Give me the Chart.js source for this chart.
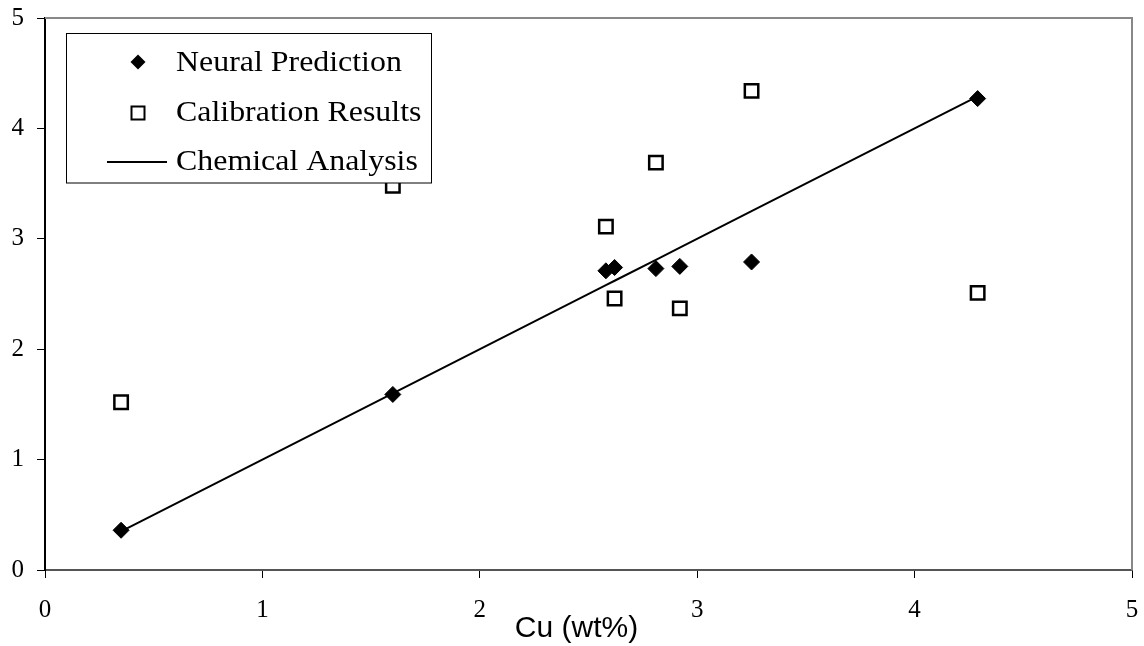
<!DOCTYPE html>
<html>
<head>
<meta charset="utf-8">
<script src="https://cdn.jsdelivr.net/npm/chart.js@4.4.1/dist/chart.umd.min.js"></script>
<style>
  html, body { margin: 0; padding: 0; background: #fff; }
  #wrap { width: 1144px; height: 646px; }
</style>
</head>
<body>
<div id="wrap"><canvas id="myChart" width="1144" height="646"></canvas></div>
<script>
// waarden
const cuContent = [0.35, 1.60, 2.58, 2.62, 2.81, 2.92, 3.25, 4.29];
const neuralPrediction = [0.36, 1.59, 2.71, 2.74, 2.73, 2.75, 2.79, 4.27];
const calibrationResults = [1.52, 3.48, 3.11, 2.46, 3.69, 2.37, 4.34, 2.51];
const chemicalAnalysis = [0.35, 1.60, 2.58, 2.62, 2.81, 2.92, 3.25, 4.29];
const axisMin = 0;
const axisMax = 5;
const axisStep = 1;
const xTitle = 'Cu (wt%)';
const legendLabels = ['Neural Prediction', 'Calibration Results', 'Chemical Analysis'];

const serif = "'Liberation Serif', 'Times New Roman', serif";
const sans = "'Liberation Sans', Arial, sans-serif";

const toPoints = (xs, ys) => xs.map((x, i) => ({ x: x, y: ys[i] }));

// grijze rand boven en rechts van het plotvlak
const plotBorder = {
    id: 'plotBorder',
    beforeDatasetsDraw(chart) {
        const { ctx, chartArea: a } = chart;
        ctx.save();
        ctx.strokeStyle = '#888';
        ctx.lineWidth = 2;
        ctx.beginPath();
        ctx.moveTo(a.left, a.top);
        ctx.lineTo(a.right, a.top);
        ctx.lineTo(a.right, a.bottom);
        ctx.stroke();
        ctx.restore();
    }
};

// legenda binnen het plotvlak + as-titel
const boxLegend = {
    id: 'boxLegend',
    afterDraw(chart) {
        const ctx = chart.ctx;
        const a = chart.chartArea;
        const bx = 66, by = 33.5, bw = 365, bh = 149.5;
        ctx.save();
        ctx.fillStyle = '#fff';
        ctx.fillRect(bx, by, bw, bh);
        ctx.strokeStyle = '#000';
        ctx.lineWidth = 1;
        ctx.strokeRect(bx + 0.5, by, bw, bh);

        const markerX = 138;
        const rowsY = [62, 113, 162];
        const baseY = [71, 121, 170];

        ctx.fillStyle = '#000';
        ctx.strokeStyle = '#000';
        ctx.beginPath();
        ctx.moveTo(markerX - 7.5, rowsY[0]);
        ctx.lineTo(markerX, rowsY[0] - 7.5);
        ctx.lineTo(markerX + 7.5, rowsY[0]);
        ctx.lineTo(markerX, rowsY[0] + 7.5);
        ctx.closePath();
        ctx.fill();

        ctx.fillStyle = '#fff';
        ctx.lineWidth = 2;
        ctx.beginPath();
        ctx.rect(markerX - 6.5, rowsY[1] - 6.5, 13, 13);
        ctx.fill();
        ctx.stroke();

        ctx.beginPath();
        ctx.moveTo(107, rowsY[2]);
        ctx.lineTo(167, rowsY[2]);
        ctx.stroke();

        ctx.fillStyle = '#000';
        ctx.font = '29px ' + serif;
        ctx.textBaseline = 'alphabetic';
        ctx.textAlign = 'left';
        legendLabels.forEach((t, i) => {
            ctx.save();
            ctx.translate(176, baseY[i]);
            ctx.scale(1.1, 1);
            ctx.fillText(t, 0, 0);
            ctx.restore();
        });

        ctx.font = '30px ' + sans;
        ctx.textAlign = 'center';
        ctx.fillText(xTitle, (a.left + a.right) / 2 - 12, 637);
        ctx.restore();
    }
};

const renderChart = () => {
    const ctx = document.getElementById('myChart').getContext('2d');

    new Chart(ctx, {
        type: 'scatter',
        data: {
            datasets: [{
                label: legendLabels[0],
                data: toPoints(cuContent, neuralPrediction),
                pointStyle: 'rectRot',
                pointRadius: 8,
                backgroundColor: '#000',
                borderColor: '#000',
                borderWidth: 1,
                order: 1
            }, {
                label: legendLabels[1],
                data: toPoints(cuContent, calibrationResults),
                pointStyle: 'rect',
                pointRadius: 9.5,
                backgroundColor: '#fff',
                borderColor: '#000',
                borderWidth: 2.5,
                order: 2
            }, {
                label: legendLabels[2],
                data: toPoints(cuContent, chemicalAnalysis),
                showLine: true,
                pointRadius: 0,
                borderColor: '#000',
                borderWidth: 2,
                order: 3
            }]
        },
        options: {
            responsive: false,
            animation: false,
            devicePixelRatio: 1,
            layout: { padding: { top: 18, right: 10, left: 0, bottom: 0 } },
            plugins: {
                legend: { display: false },
                tooltip: { enabled: false }
            },
            scales: {
                x: {
                    type: 'linear',
                    min: axisMin,
                    max: axisMax,
                    ticks: {
                        stepSize: axisStep,
                        color: '#000',
                        padding: 17,
                        font: { family: serif, size: 25 }
                    },
                    grid: { drawOnChartArea: false, tickLength: 8, color: '#000', lineWidth: 1 },
                    border: { color: '#555', width: 2 },
                    afterFit: (s) => {
                        s.height = 76;
                        s.paddingLeft = 0;
                        s.paddingRight = 0;
                    }
                },
                y: {
                    type: 'linear',
                    min: axisMin,
                    max: axisMax,
                    ticks: {
                        stepSize: axisStep,
                        color: '#000',
                        padding: 13,
                        font: { family: serif, size: 25 }
                    },
                    grid: { drawOnChartArea: false, tickLength: 8, color: '#000', lineWidth: 1 },
                    border: { color: '#000', width: 2 },
                    afterFit: (s) => {
                        s.width = 45;
                        s.paddingTop = 0;
                        s.paddingBottom = 0;
                    }
                }
            }
        },
        plugins: [plotBorder, boxLegend]
    });
};

document.addEventListener('DOMContentLoaded', renderChart);
</script>
</body>
</html>
